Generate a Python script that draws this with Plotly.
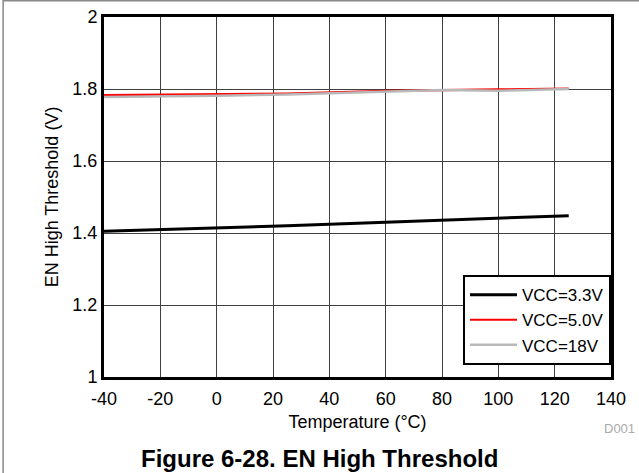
import plotly.graph_objects as go

temps = [-40, 0, 25, 60, 80, 100, 125]
vcc_3v3 = [1.405, 1.414, 1.420, 1.430, 1.436, 1.442, 1.448]
vcc_5v0 = [1.783, 1.785, 1.787, 1.795, 1.798, 1.799, 1.801]
vcc_18v = [1.778, 1.781, 1.785, 1.793, 1.797, 1.795, 1.800]

x_ticks = [-40, -20, 0, 20, 40, 60, 80, 100, 120, 140]
y_ticks = [1, 1.2, 1.4, 1.6, 1.8, 2]
y_labels = ["1", "1.2", "1.4", "1.6", "1.8", "2"]

font = "Liberation Sans, Arial, sans-serif"

fig = go.Figure()
fig.add_trace(go.Scatter(x=temps, y=vcc_3v3, mode="lines", name="VCC=3.3V",
                         line=dict(color="black", width=3)))
fig.add_trace(go.Scatter(x=temps, y=vcc_5v0, mode="lines", name="VCC=5.0V",
                         line=dict(color="#ff0000", width=2.2)))
fig.add_trace(go.Scatter(x=temps, y=vcc_18v, mode="lines", name="VCC=18V",
                         line=dict(color="#b8b8b8", width=2.5)))

fig.update_xaxes(
    range=[-40, 140], tickvals=x_ticks, ticktext=[str(v) for v in x_ticks],
    showgrid=True, gridcolor="#404040", gridwidth=1, zeroline=False,
    showline=True, linecolor="black", linewidth=3, mirror=True,
    ticks="", tickfont=dict(size=18, color="black"), automargin=False,
    ticklabeloverflow="allow", ticklabelstandoff=3,
    title=dict(text="Temperature (°C)", font=dict(size=18, color="black"), standoff=8),
)
fig.update_yaxes(
    range=[1, 2], tickvals=y_ticks, ticktext=y_labels,
    showgrid=True, gridcolor="#404040", gridwidth=1, zeroline=False,
    showline=True, linecolor="black", linewidth=3, mirror=True,
    ticks="", tickfont=dict(size=18, color="black"), automargin=False,
    ticklabeloverflow="allow",
    title=dict(text="EN High Threshold (V)", font=dict(size=18, color="black"), standoff=10),
)

# outer frame of the figure panel
fig.add_shape(type="rect", xref="paper", yref="paper",
              x0=-0.199, x1=1.1, y0=-0.35, y1=1.045,
              line=dict(color="#888", width=1.5), layer="below")

fig.add_annotation(text="D001", xref="paper", yref="paper", x=1.051, y=-0.144,
                   xanchor="right", yanchor="middle", showarrow=False,
                   font=dict(size=13, color="#aaa", family=font))
fig.add_annotation(text="<b>Figure 6-28. EN High Threshold</b>", xref="paper", yref="paper",
                   x=0.425, y=-0.225, xanchor="center", yanchor="middle", showarrow=False,
                   font=dict(size=24, color="black", family=font))

fig.update_layout(
    width=639, height=473,
    margin=dict(l=104, r=28, t=17, b=96, autoexpand=False),
    paper_bgcolor="white", plot_bgcolor="white",
    font=dict(family=font, color="black"),
    showlegend=True,
    legend=dict(x=1, y=0.033, xanchor="right", yanchor="bottom",
                bgcolor="white", bordercolor="black", borderwidth=2,
                font=dict(size=17, color="black"), tracegroupgap=0,
                itemwidth=47),
)

fig.write_html("out.html", config={"displayModeBar": False},
               post_script="document.body.style.margin='0';")
